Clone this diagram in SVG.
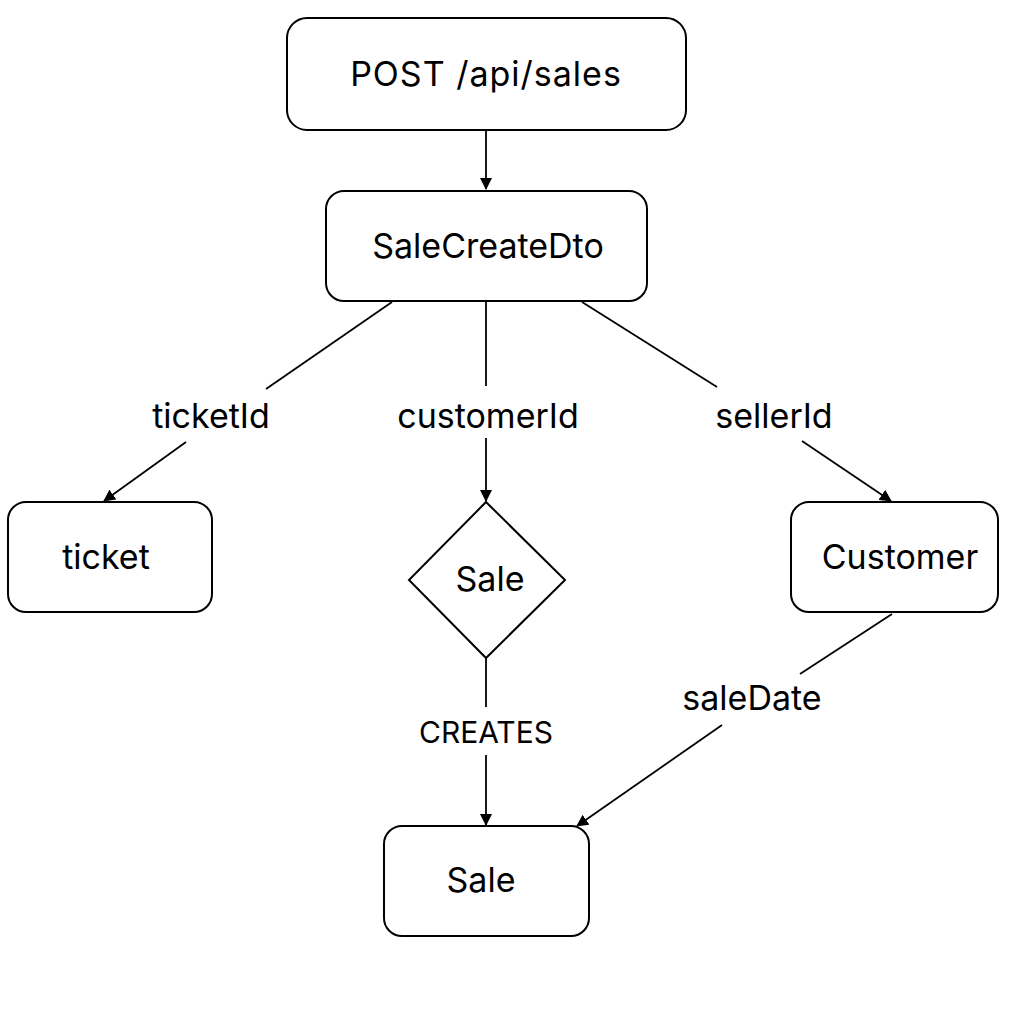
<svg xmlns="http://www.w3.org/2000/svg" width="1024" height="1024" viewBox="0 0 1024 1024">
<defs>
<marker id="arr" markerWidth="12" markerHeight="12" refX="11" refY="6" orient="auto" markerUnits="userSpaceOnUse">
<path d="M0,0 L12,6 L0,12 Z" fill="#000"/>
</marker>
<style>
.box{fill:#fff;stroke:#000;stroke-width:2}
.t{font-family:Inter,"Noto Sans","Liberation Sans",sans-serif;font-size:34px;fill:#000;text-anchor:middle}
.lbl{font-family:Inter,"Noto Sans","Liberation Sans",sans-serif;font-size:34px;fill:#000;text-anchor:middle}
.sm{font-size:30px}
.ln{stroke:#000;stroke-width:1.8;fill:none}
.a{marker-end:url(#arr)}
</style>
</defs>
<rect width="1024" height="1024" fill="#fff"/>
<g id="connectors">
<line class="ln a" x1="486" y1="130" x2="486" y2="189"/>
<line class="ln" x1="392" y1="302" x2="266" y2="389"/>
<line class="ln a" x1="186" y1="442" x2="104" y2="501"/>
<line class="ln" x1="486" y1="302" x2="486" y2="386"/>
<line class="ln a" x1="486" y1="438" x2="486" y2="501"/>
<line class="ln" x1="582" y1="302" x2="717" y2="387"/>
<line class="ln a" x1="802" y1="441" x2="891" y2="501"/>
<line class="ln" x1="892" y1="614" x2="800" y2="674"/>
<line class="ln a" x1="722" y1="725" x2="577" y2="826"/>
<line class="ln" x1="486" y1="658" x2="486" y2="707"/>
<line class="ln a" x1="486" y1="755" x2="486" y2="825"/>
<text class="lbl" x="211" y="428">ticketId</text>
<text class="lbl" x="488" y="428">customerId</text>
<text class="lbl" x="774" y="428">sellerId</text>
<text class="lbl" x="752" y="710">saleDate</text>
<text class="lbl sm" x="486" y="743">CREATES</text>
</g>
<g id="post">
<rect class="box" x="287" y="18" width="399" height="112" rx="20"/>
<text class="t" x="486" y="86" letter-spacing="1">POST /api/sales</text>
</g>
<g id="dto">
<rect class="box" x="326" y="191" width="321" height="110" rx="18"/>
<text class="t" x="488" y="258">SaleCreateDto</text>
</g>
<g id="ticket">
<rect class="box" x="8" y="502" width="204" height="110" rx="18"/>
<text class="t" x="106" y="569">ticket</text>
</g>
<g id="saleDecision">
<polygon class="box" points="486,502 565,580 486,658 409,580"/>
<text class="t" x="490" y="591">Sale</text>
</g>
<g id="customer">
<rect class="box" x="791" y="502" width="207" height="110" rx="18"/>
<text class="t" x="900" y="569">Customer</text>
</g>
<g id="sale">
<rect class="box" x="384" y="826" width="205" height="110" rx="18"/>
<text class="t" x="481" y="892">Sale</text>
</g>
</svg>
